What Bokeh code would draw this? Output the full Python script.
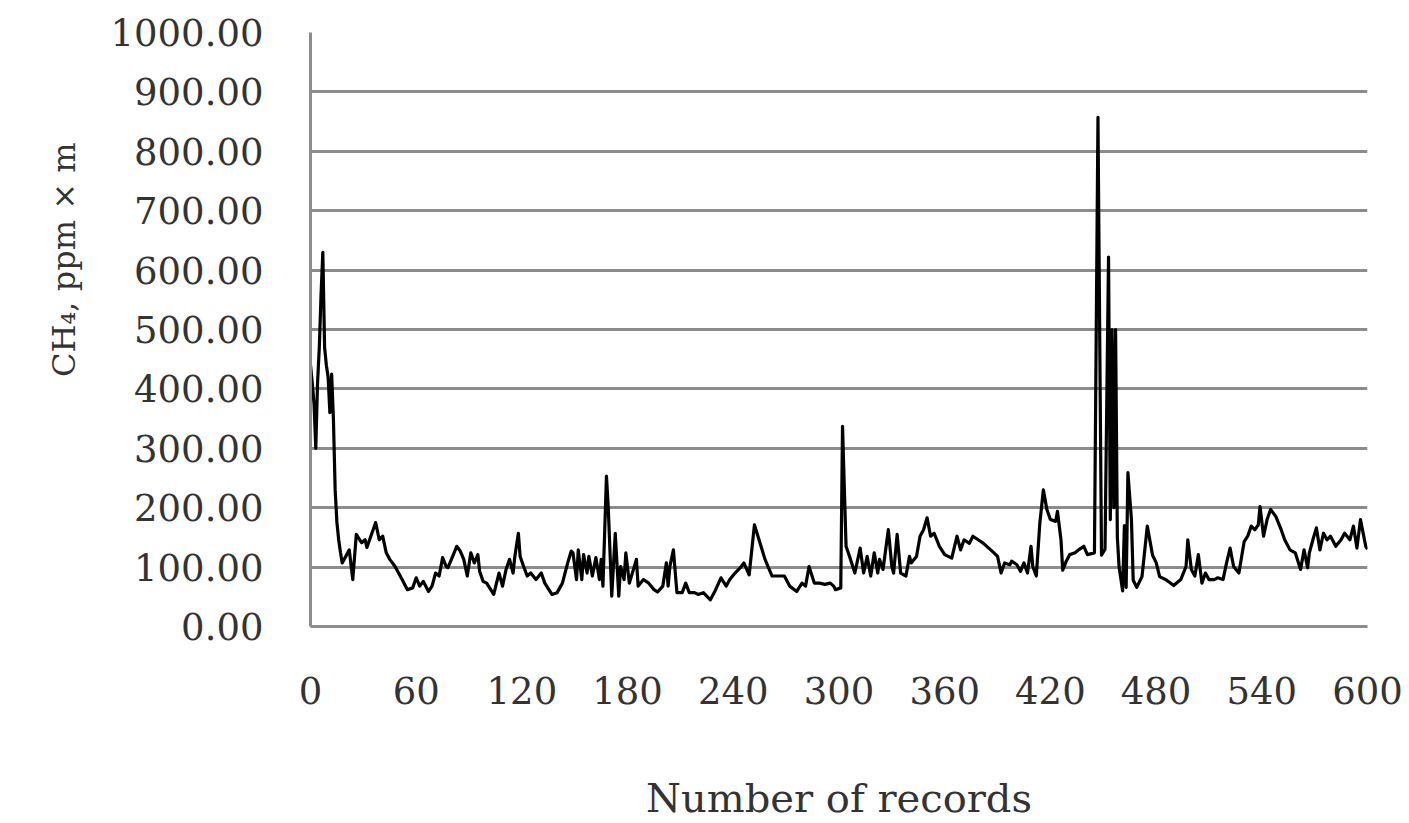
from bokeh.plotting import figure
from bokeh.models import Range1d, FixedTicker, NumeralTickFormatter, Title
from bokeh.embed import file_html
from bokeh.resources import INLINE

records = [0, 1, 2, 3, 4, 5, 6, 7, 8, 9, 10, 11, 12, 13, 14, 15, 16, 17, 18,
           22, 24, 26, 29, 31, 32, 37, 39, 41, 43, 45, 48, 52, 55, 58, 60, 62, 64,
           67, 69, 71, 73, 75, 77, 78, 80, 83, 85, 87, 89, 91, 93, 95, 96, 98, 100,
           104, 107, 109, 111, 113, 115, 116, 118, 119, 121, 123, 125, 128, 131, 133,
           137, 140, 143, 146, 148, 149, 151, 152, 154, 155, 157, 158, 160, 162, 164,
           165, 166, 168, 169, 171, 173, 175, 176, 178, 179, 181, 185, 186, 189, 192,
           195, 197, 200, 202, 203, 204, 206, 208, 211, 213, 215, 218, 220, 223, 227,
           230, 233, 236, 238, 241, 244, 246, 249, 252, 254, 258, 262, 265, 269, 272,
           276, 279, 281, 283, 286, 289, 292, 295, 297, 298, 301, 302, 304, 306, 309,
           312, 314, 316, 318, 320, 322, 323, 325, 328, 330, 331, 333, 335, 338, 340,
           341, 344, 346, 348, 350, 352, 354, 357, 360, 364, 367, 369, 371, 374, 376,
           379, 382, 385, 388, 390, 392, 394, 397, 398, 401, 403, 405, 407, 409, 410,
           412, 414, 416, 418, 420, 423, 424, 426, 427, 429, 431, 434, 436, 439, 441,
           445, 447, 449, 451, 453, 454, 455, 456, 457, 458, 459, 461, 462, 463, 464,
           466, 467, 469, 472, 475, 478, 480, 482, 486, 490, 494, 497, 498, 500, 502,
           504, 506, 508, 510, 513, 515, 518, 520, 522, 524, 527, 530, 532, 534, 536,
           538, 539, 541, 543, 545, 548, 551, 553, 556, 559, 562, 564, 566, 567, 569,
           571, 573, 575, 577, 579, 582, 585, 587, 590, 592, 594, 596, 599, 600]

ch4 = [440, 410, 375, 300, 410, 470, 560, 630, 470, 440, 420, 360, 425, 350, 230, 175, 146, 125, 107,
       129, 79, 155, 141, 146, 133, 175, 146, 152, 124, 113, 101, 79, 62, 65, 82, 68, 76,
       59, 68, 90, 85, 116, 101, 99, 113, 135, 127, 113, 85, 124, 107, 121, 93, 76, 73,
       54, 90, 68, 96, 113, 90, 118, 157, 118, 101, 85, 90, 79, 90, 73,
       54, 57, 73, 107, 127, 124, 79, 129, 79, 121, 90, 118, 85, 116, 79,
       113, 68, 253, 202, 51, 157, 51, 101, 79, 124, 73, 113, 68, 79, 73,
       62, 58, 68, 107, 68, 101, 129, 57, 57, 73, 57, 57, 54, 57, 45,
       62, 82, 68, 79, 90, 99, 107, 87, 171, 152, 113, 85, 85, 85, 68,
       59, 73, 68, 101, 73, 73, 71, 73, 68, 62, 65, 337, 135, 118, 90,
       132, 90, 118, 85, 124, 90, 113, 96, 163, 101, 90, 155, 90, 85, 118,
       107, 118, 152, 163, 183, 152, 157, 135, 121, 115, 152, 129, 146, 140, 152,
       146, 140, 132, 124, 118, 90, 107, 104, 110, 104, 93, 107, 90, 135, 101,
       85, 174, 230, 197, 180, 177, 194, 146, 95, 110, 121, 124, 129, 135, 121,
       124, 857, 120, 130, 622, 180, 500, 200, 500, 150, 100, 60, 170, 66, 259,
       180, 78, 66, 84, 169, 120, 108, 84, 78, 69, 79, 101, 146, 96, 85,
       121, 73, 90, 79, 79, 82, 79, 107, 132, 101, 90, 143, 152, 169, 163,
       171, 202, 152, 180, 197, 185, 163, 146, 129, 124, 96, 129, 99, 124, 146,
       166, 129, 157, 146, 152, 135, 146, 157, 146, 169, 132, 180, 135, 130]

x_ticks = [0, 60, 120, 180, 240, 300, 360, 420, 480, 540, 600]
y_ticks = [0, 100, 200, 300, 400, 500, 600, 700, 800, 900, 1000]

x_title = "Number of records"
y_title = "CH\u2084, ppm \u00d7 m"

FONT = "DejaVu Serif"
TEXT = "#333333"
GRID = "#8c8c8c"

p = figure(width=1409, height=823, output_backend="svg", toolbar_location=None,
           x_range=Range1d(0, 600), y_range=Range1d(0, 1000),
           min_border_left=310, min_border_right=42, min_border_top=32,
           min_border_bottom=196)
p.outline_line_color = None
p.background_fill_color = "white"
p.border_fill_color = "white"

p.line(records, ch4, line_color="black", line_width=3.2, line_join="round")

p.xgrid.grid_line_color = None
p.ygrid.ticker = FixedTicker(ticks=y_ticks)
p.ygrid.grid_line_color = GRID
p.ygrid.grid_line_width = 3

for ax in (p.xaxis[0], p.yaxis[0]):
    ax.axis_line_color = GRID
    ax.axis_line_width = 3
    ax.major_tick_out = 0
    ax.major_tick_in = 0
    ax.minor_tick_out = 0
    ax.minor_tick_in = 0
    ax.major_label_text_font = FONT
    ax.major_label_text_font_size = "37px"
    ax.major_label_text_color = TEXT

p.xaxis.ticker = FixedTicker(ticks=x_ticks)
p.yaxis.ticker = FixedTicker(ticks=y_ticks)
p.yaxis.formatter = NumeralTickFormatter(format="0.00")
p.xaxis.major_label_standoff = 50
p.yaxis.major_label_standoff = 47

p.xaxis.axis_label = x_title
p.xaxis.axis_label_text_font = FONT
p.xaxis.axis_label_text_font_size = "40px"
p.xaxis.axis_label_text_font_style = "normal"
p.xaxis.axis_label_text_color = TEXT
p.xaxis.axis_label_standoff = 68

ytitle = Title(text=y_title, align="right", offset=110, standoff=48,
               vertical_align="middle",
               text_font=FONT, text_font_size="32px", text_font_style="normal",
               text_color=TEXT)
p.add_layout(ytitle, "left")

open("out.html", "w").write(file_html(p, INLINE))
